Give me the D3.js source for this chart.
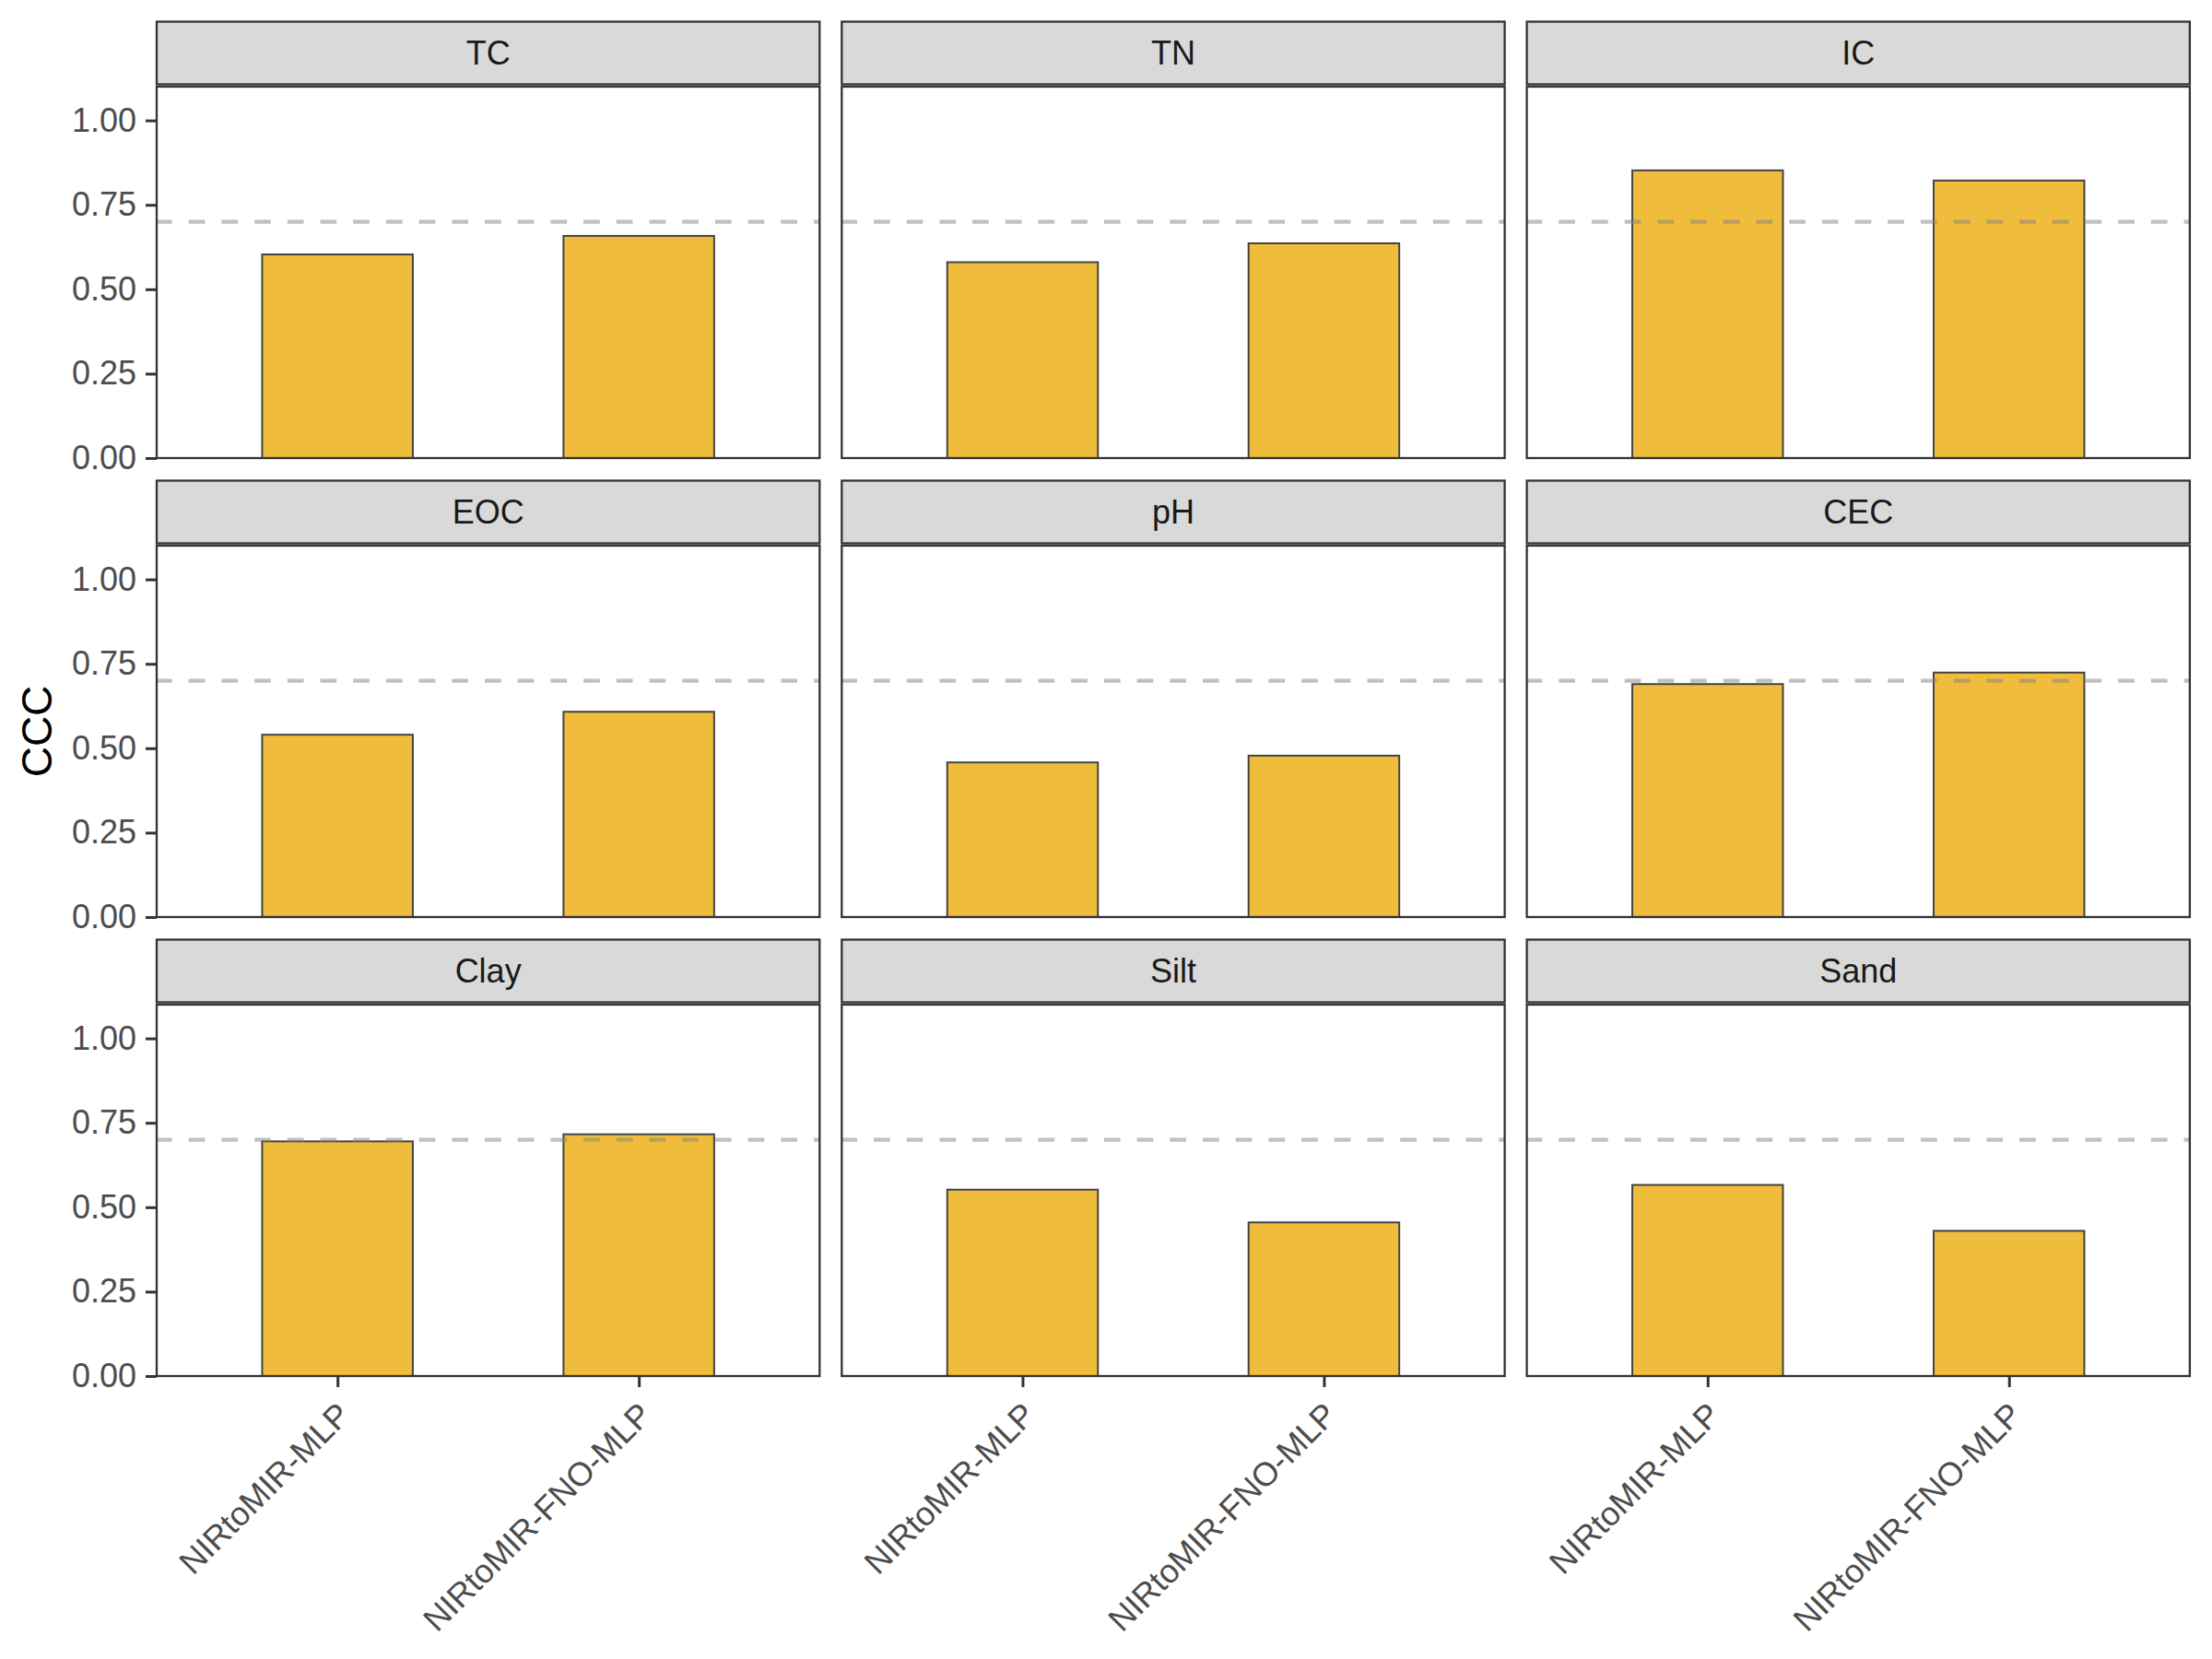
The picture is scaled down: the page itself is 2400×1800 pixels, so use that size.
<!DOCTYPE html>
<html>
<head>
<meta charset="utf-8">
<script src="https://cdn.jsdelivr.net/npm/d3@7"></script>
<style>
  body { margin: 0; background: #fff; }
  text { font-family: "Liberation Sans", Arial, Helvetica, sans-serif; }
</style>
</head>
<body>
<div id="chart"></div>
<script>
// CCC per soil property, two models, faceted 3x3

var properties = ["TC", "TN", "IC", "EOC", "pH", "CEC", "Clay", "Silt", "Sand"];
var models = ["NIRtoMIR-MLP", "NIRtoMIR-FNO-MLP"];
var cccMLP = [0.603, 0.580, 0.852, 0.540, 0.458, 0.690, 0.695, 0.552, 0.566];
var cccFNO = [0.658, 0.636, 0.822, 0.608, 0.478, 0.724, 0.716, 0.455, 0.430];
var yTicks = [0, 0.25, 0.5, 0.75, 1.0];
var threshold = 0.7;

var svgWidth = 2400;
var svgHeight = 1800;

// panel layout
var panelLeft = 170;
var panelW = 719.3;
var panelGapX = 24;
var panelTop = 94;
var panelH = 403;
var rowPitch = 498;
var stripH = 68;
var stripGap = 2.5;

var svg = d3.select("#chart")
    .append("svg")
    .attr("width", svgWidth)
    .attr("height", svgHeight);

svg.append("rect")
    .attr("width", svgWidth)
    .attr("height", svgHeight)
    .attr("fill", "#fff");

var xScale = d3.scalePoint()
    .domain(models)
    .range([0, panelW])
    .padding(0.6);
var barW = xScale.step() * 0.5;

var yScale = d3.scaleLinear()
    .domain([0, 1.1])
    .range([panelH, 0]);

var rows = properties.map(function(p, i) {
    return {
        name: p,
        col: i % 3,
        row: Math.floor(i / 3),
        values: [
            {model: models[0], ccc: cccMLP[i]},
            {model: models[1], ccc: cccFNO[i]}
        ]
    };
});

var panels = svg.selectAll("g.panel")
    .data(rows)
    .enter()
    .append("g")
    .attr("class", "panel")
    .attr("transform", d => `translate(${panelLeft + d.col * (panelW + panelGapX)},${panelTop + d.row * rowPitch})`);

// strip
panels.append("rect")
    .attr("x", 0)
    .attr("y", -stripH - stripGap)
    .attr("width", panelW)
    .attr("height", stripH)
    .attr("fill", "#d9d9d9")
    .attr("stroke", "#333333")
    .attr("stroke-width", 2.3);

panels.append("text")
    .attr("x", panelW / 2)
    .attr("y", -stripGap - stripH / 2)
    .attr("dy", "0.35em")
    .attr("text-anchor", "middle")
    .attr("font-size", 36)
    .attr("fill", "#1a1a1a")
    .text(d => d.name);

// bars
panels.selectAll("rect.bar")
    .data(d => d.values)
    .enter()
    .append("rect")
    .attr("class", "bar")
    .attr("x", d => xScale(d.model) - barW / 2)
    .attr("y", d => yScale(d.ccc))
    .attr("width", barW)
    .attr("height", d => yScale(0) - yScale(d.ccc))
    .attr("fill", "#efbc3b")
    .attr("stroke", "#444444")
    .attr("stroke-width", 2);

// threshold line
panels.append("line")
    .attr("x1", 0)
    .attr("x2", panelW)
    .attr("y1", yScale(threshold))
    .attr("y2", yScale(threshold))
    .attr("stroke", "#818181")
    .attr("stroke-opacity", 0.5)
    .attr("stroke-width", 4.2)
    .attr("stroke-dasharray", "17.7,18")
    .attr("stroke-dashoffset", 1);

// panel border
panels.append("rect")
    .attr("width", panelW)
    .attr("height", panelH)
    .attr("fill", "none")
    .attr("stroke", "#333333")
    .attr("stroke-width", 2.3);

// y axes on left column
var yAxis = d3.axisLeft(yScale)
    .tickValues(yTicks)
    .tickFormat(d3.format(".2f"))
    .tickSize(12)
    .tickPadding(10);

panels.filter(d => d.col === 0)
    .append("g")
    .call(yAxis)
    .call(g => g.select(".domain").remove())
    .call(g => g.selectAll(".tick line").attr("stroke", "#333333").attr("stroke-width", 3))
    .call(g => g.selectAll(".tick text")
        .attr("font-size", 36)
        .attr("fill", "#4d4d4d")
        .attr("font-family", "Liberation Sans, Arial, sans-serif"));

// x axes on bottom row
var xAxis = d3.axisBottom(xScale)
    .tickSize(12)
    .tickPadding(0);

panels.filter(d => d.row === 2)
    .append("g")
    .attr("transform", `translate(0,${panelH})`)
    .call(xAxis)
    .call(g => g.select(".domain").remove())
    .call(g => g.selectAll(".tick line").attr("stroke", "#333333").attr("stroke-width", 3))
    .call(g => g.selectAll(".tick text")
        .attr("font-size", 36)
        .attr("fill", "#4d4d4d")
        .attr("font-family", "Liberation Sans, Arial, sans-serif")
        .attr("text-anchor", "end")
        .attr("dy", "0.72em")
        .attr("y", 0)
        .attr("transform", "translate(-3,26) rotate(-45)"));

// y axis title
svg.append("text")
    .attr("transform", `translate(56,${(panelTop + panelTop + 2 * rowPitch + panelH) / 2}) rotate(-90)`)
    .attr("text-anchor", "middle")
    .attr("font-size", 46)
    .attr("fill", "#000")
    .text("CCC");
</script>
</body>
</html>
